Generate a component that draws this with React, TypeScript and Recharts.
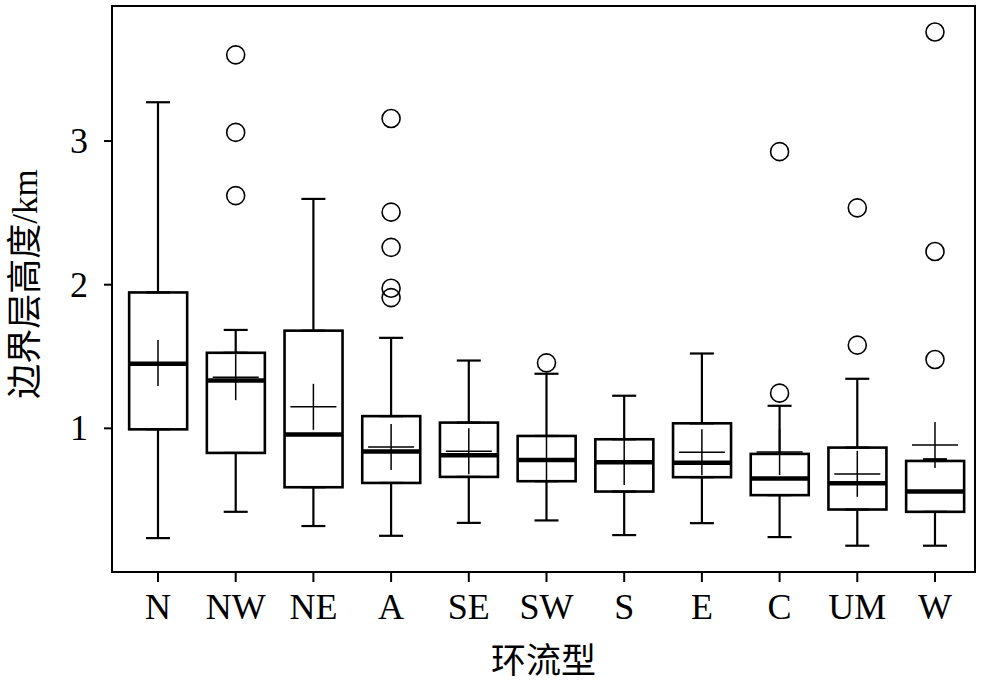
import React from 'react';
import { ComposedChart, Bar, Scatter, ErrorBar, XAxis, YAxis, Label, ReferenceArea } from 'recharts';

const categories = ['N', 'NW', 'NE', 'A', 'SE', 'SW', 'S', 'E', 'C', 'UM', 'W'];
const lowWhisker = [0.236, 0.419, 0.32, 0.252, 0.342, 0.359, 0.257, 0.34, 0.243, 0.183, 0.183];
const q1 = [0.993, 0.829, 0.59, 0.62, 0.662, 0.632, 0.56, 0.66, 0.535, 0.435, 0.419];
const median = [1.449, 1.333, 0.958, 0.838, 0.8125, 0.78, 0.764, 0.76, 0.65, 0.618, 0.56];
const q3 = [1.946, 1.526, 1.68, 1.085, 1.04, 0.947, 0.924, 1.035, 0.822, 0.866, 0.773];
const highWhisker = [3.27, 1.685, 2.597, 1.63, 1.472, 1.38, 1.227, 1.521, 1.157, 1.345, 0.785];
const means = [1.455, 1.356, 1.15, 0.87, 0.84, 0.785, 0.765, 0.833, 0.835, 0.683, 0.884];
const outliers: number[][] = [
  [],
  [3.6, 3.06, 2.62],
  [],
  [3.157, 2.505, 2.26, 1.975, 1.91],
  [],
  [1.456],
  [],
  [],
  [2.926, 1.245],
  [2.535, 1.579],
  [3.759, 2.231, 1.479],
];
const yTicks = [1, 2, 3];
const yMax = 3.94;
const xPositions = categories.map((_, i) => i + 1);
const xDomain = [0.408, 11.515];

const data = categories.map((name, i) => {
  const row: any = {
    name,
    pos: xPositions[i],
    box: [q1[i], q3[i]],
    median: median[i],
    mean: means[i],
    q1: q1[i],
    q3: q3[i],
    lowErr: [q1[i] - lowWhisker[i], 0],
    highErr: [0, highWhisker[i] - q3[i]],
  };
  for (let k = 0; k < 5; k++) {
    row['o' + k] = outliers[i][k] !== undefined ? outliers[i][k] : null;
  }
  return row;
});

const FONT = '"Liberation Serif", "Noto Sans CJK SC", serif';

const Empty = () => <g />;

const MedianShape = (props: any) => {
  const { cx, cy } = props;
  if (cx == null || cy == null) return <g />;
  return <line x1={cx - 29} x2={cx + 29} y1={cy} y2={cy} stroke="#000" strokeWidth={4.5} />;
};

const MeanShape = (props: any) => {
  const { cx, cy } = props;
  if (cx == null || cy == null) return <g />;
  return (
    <g>
      <line x1={cx - 23} x2={cx + 23} y1={cy} y2={cy} stroke="#000" strokeWidth={1.5} />
      <line x1={cx} x2={cx} y1={cy - 23} y2={cy + 23} stroke="#000" strokeWidth={1.5} />
    </g>
  );
};

const OutlierShape = (props: any) => {
  const { cx, cy } = props;
  if (cx == null || cy == null) return <g />;
  return <circle cx={cx} cy={cy} r={9} fill="none" stroke="#000" strokeWidth={1.6} />;
};

const BoxShape = (props: any) => {
  const { x, y, width, height } = props;
  if (x == null) return <g />;
  return <rect x={x} y={y} width={width} height={height} fill="#fff" stroke="#000" strokeWidth={2.6} />;
};

const XTick = (props: any) => {
  const { x, y, payload } = props;
  const label = categories[Math.round(payload.value) - 1] || '';
  return (
    <text x={x} y={y + 31} textAnchor="middle" fontFamily={FONT} fontSize={36} fill="#000">
      {label}
    </text>
  );
};

const YTick = (props: any) => {
  const { x, y, payload } = props;
  return (
    <text x={x - 4} y={y + 12} textAnchor="end" fontFamily={FONT} fontSize={36} fill="#000">
      {payload.value}
    </text>
  );
};

const YTitle = (props: any) => {
  const vb = props.viewBox || {};
  const cx = (vb.x || 0) + 25;
  const cy = (vb.y || 0) + (vb.height || 0) / 2 - 5;
  return (
    <text
      x={cx}
      y={cy}
      transform={`rotate(-90, ${cx}, ${cy})`}
      textAnchor="middle"
      dominantBaseline="central"
      fontFamily={FONT}
      fontSize={35}
      fill="#000"
    >
      边界层高度/km
    </text>
  );
};

const XTitle = (props: any) => {
  const vb = props.viewBox || {};
  const cx = (vb.x || 0) + (vb.width || 0) / 2;
  const cy = (vb.y || 0) + 89;
  return (
    <text
      x={cx}
      y={cy}
      textAnchor="middle"
      dominantBaseline="central"
      fontFamily={FONT}
      fontSize={35}
      fill="#000"
    >
      环流型
    </text>
  );
};

export default function App() {
  return (
    <div style={{ position: 'absolute', left: 0, top: 0, background: '#fff' }}>
      <ComposedChart
        width={987}
        height={688}
        data={data}
        margin={{ top: 6, right: 12, left: 0, bottom: 0 }}
      >
        <XAxis
          dataKey="pos"
          type="number"
          domain={xDomain}
          allowDataOverflow
          ticks={xPositions}
          height={116}
          tickLine={{ stroke: '#000', strokeWidth: 2 }}
          axisLine={{ stroke: '#000', strokeWidth: 2 }}
          tickSize={10}
          tickMargin={6}
          interval={0}
          tick={<XTick />}
        >
          <Label content={<XTitle />} position="insideBottom" />
        </XAxis>
        <YAxis
          type="number"
          domain={[0, yMax]}
          allowDataOverflow
          ticks={yTicks}
          width={112}
          tickLine={{ stroke: '#000', strokeWidth: 2 }}
          axisLine={{ stroke: '#000', strokeWidth: 2 }}
          tickSize={8}
          tickMargin={12}
          tick={<YTick />}
        >
          <Label content={<YTitle />} position="insideLeft" />
        </YAxis>
        <ReferenceArea y1={0} y2={yMax} fill="none" fillOpacity={0} stroke="#000" strokeWidth={2} ifOverflow="visible" />
        <Scatter dataKey="q3" shape={<Empty />} isAnimationActive={false}>
          <ErrorBar dataKey="highErr" direction="y" width={12} stroke="#000" strokeWidth={2.2} />
        </Scatter>
        <Scatter dataKey="q1" shape={<Empty />} isAnimationActive={false}>
          <ErrorBar dataKey="lowErr" direction="y" width={12} stroke="#000" strokeWidth={2.2} />
        </Scatter>
        <Bar dataKey="box" barSize={58} shape={<BoxShape />} isAnimationActive={false} />
        <Scatter dataKey="median" shape={<MedianShape />} isAnimationActive={false} />
        <Scatter dataKey="mean" shape={<MeanShape />} isAnimationActive={false} />
        {[0, 1, 2, 3, 4].map((k) => (
          <Scatter key={k} dataKey={'o' + k} shape={<OutlierShape />} isAnimationActive={false} />
        ))}
      </ComposedChart>
    </div>
  );
}
